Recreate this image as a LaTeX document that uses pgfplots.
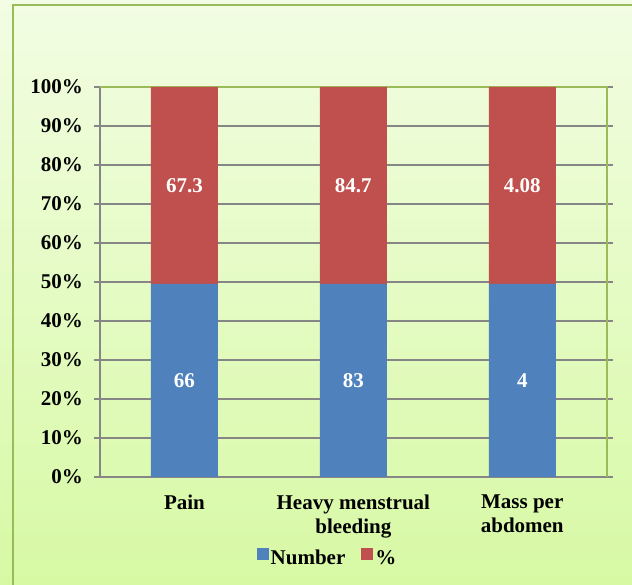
\documentclass[border=0pt]{standalone}
\usepackage{fontspec}
\setmainfont{Liberation Serif}
\usepackage{pgfplots}
\pgfplotsset{compat=1.18}
\usepackage{pgfplotstable}
\definecolor{bgtop}{RGB}{242,253,227}
\definecolor{bgbot}{RGB}{215,249,164}
\definecolor{framec}{RGB}{155,187,89}
\definecolor{gridc}{RGB}{134,134,134}
\definecolor{barblue}{RGB}{79,129,189}
\definecolor{barred}{RGB}{192,80,77}
\pgfplotstableread{
x num pct
0 66 67.3
1 83 84.7
2 4 4.08
}\data
\begin{document}
\fontsize{21}{25}\selectfont\bfseries
\begin{tikzpicture}
\useasboundingbox (0,0) rectangle (632pt,585pt);
\begin{scope}
\clip (0,0) rectangle (632pt,585pt);
\shade[top color=bgtop, bottom color=bgbot] (0,0) rectangle (632pt,585pt);
\draw[framec, line width=2pt] (13pt,-20pt) rectangle (660pt,580pt);
\end{scope}
\begin{axis}[
  at={(100pt,108pt)}, anchor=south west,
  width=506.7pt, height=390pt, scale only axis,
  clip=false,
  ybar stacked,
  bar width=67pt,
  xmin=-0.5, xmax=2.5, ymin=0, ymax=100,
  xtick={0,1,2},
  xticklabels={Pain,{Heavy menstrual\\bleeding},{Mass per\\abdomen}},
  xticklabel style={align=center, font=\fontsize{21}{24}\selectfont\bfseries, yshift=-5pt},
  yticklabel style={font=\fontsize{21}{25}\selectfont\bfseries, xshift=-4pt},
  xtick style={draw=none},
  minor xtick={-0.5,0.5,1.5,2.5},
  minor tick length=6pt,
  major tick length=6pt,
  tick align=outside,
  minor x tick style={gridc, line width=1.5pt},
  ytick={0,10,...,100},
  ytick style={gridc, line width=1.5pt},
  yticklabel={\pgfmathprintnumber{\tick}\%},
  ymajorgrids, grid style={gridc, line width=1.5pt},
  axis line style={draw=none},
  /pgf/number format/assume math mode=true,
  point meta=explicit,
  nodes near coords={\pgfmathprintnumber[fixed,precision=2]{\pgfplotspointmeta}},
  every node near coord/.append style={text=white, font=\fontsize{21}{25}\selectfont\bfseries, anchor=center},
  legend style={draw=none, fill=none, at={(axis description cs:0.449,-0.21)}, anchor=center, legend columns=2,
    /tikz/every even column/.append style={column sep=14pt}, font=\fontsize{21}{25}\selectfont\bfseries},
]
\addplot[fill=barblue, draw=none, legend image code/.code={\fill[barblue] (0pt,-1pt) rectangle (12pt,11pt);}]
  table[x=x, y expr={\thisrow{num}/(\thisrow{num}+\thisrow{pct})*100}, meta=num] {\data};
\addplot[fill=barred, draw=none, legend image code/.code={\fill[barred] (0pt,-1pt) rectangle (12pt,11pt);}]
  table[x=x, y expr={\thisrow{pct}/(\thisrow{num}+\thisrow{pct})*100}, meta=pct] {\data};
\addplot[draw=none, fill=none, forget plot, nodes near coords={}] coordinates {(0,0) [0] (1,0) [0] (2,0) [0]};
\legend{Number,\%}
\draw[framec, line width=2pt] (rel axis cs:0,1) -- (rel axis cs:1,1) -- (rel axis cs:1,0);
\draw[gridc, line width=1.5pt] (rel axis cs:1,0) -- (rel axis cs:0,0) -- (rel axis cs:0,1);
\end{axis}
\end{tikzpicture}
\end{document}
